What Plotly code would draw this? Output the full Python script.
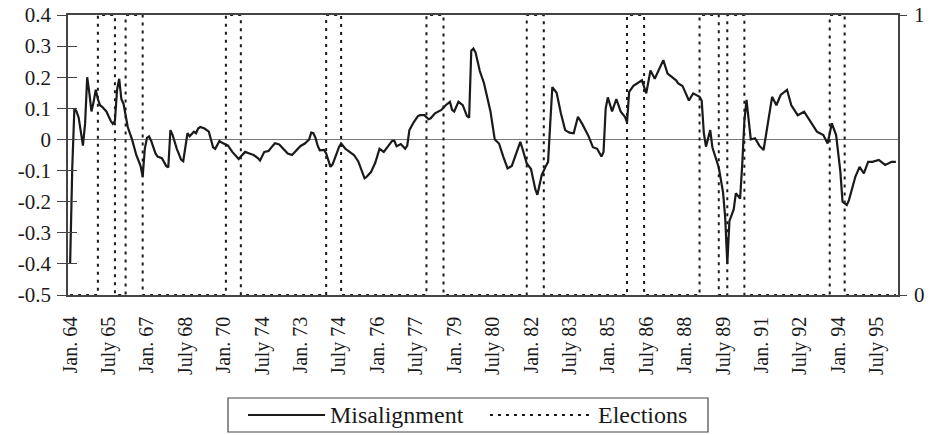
import plotly.graph_objects as go

# ---- data (month index from Jan. 1964, value) ----
mis_month = [0, 1, 2, 3, 4, 5, 6, 7, 8, 9, 10, 11, 12, 13, 14, 15, 17, 19, 20, 21, 22, 23, 24, 25, 26, 27, 29, 31, 33, 34,
             35, 36, 37, 38, 40, 41, 43, 45, 46, 47, 48, 50, 52, 53, 55, 56, 58, 59, 60, 61, 63, 65, 66, 67, 68, 70, 71, 73, 74, 76,
             78, 79, 80, 82, 84, 86, 88, 89, 91, 93, 95, 96, 98, 100, 102, 104, 106, 108, 110, 112, 113, 114, 115, 116, 117, 119, 120, 122, 123, 124,
             126, 127, 129, 131, 133, 135, 137, 138, 139, 141, 143, 145, 147, 149, 151, 152, 153, 155, 157, 158, 159, 161, 163, 164, 166, 168, 169, 171, 173, 174,
             176, 178, 179, 180, 182, 184, 186, 187, 188, 189, 190, 192, 194, 196, 197, 199, 201, 203, 205, 207, 209, 211, 212, 214, 216, 218, 219, 220, 221, 223,
             224, 225, 226, 228, 230, 232, 234, 236, 238, 240, 241, 243, 245, 247, 249, 250, 251, 252, 254, 256, 258, 260, 261, 262, 264, 266, 268, 270, 272, 274,
             276, 278, 280, 282, 284, 285, 287, 290, 292, 295, 296, 297, 298, 300, 301, 304, 306, 307, 308, 309, 311, 312, 314, 315, 316, 317, 319, 321, 323, 325,
             327, 329, 331, 333, 336, 338, 341, 344, 347, 350, 353, 355, 357, 359, 361, 362, 364, 365, 368, 370, 372, 374, 376, 379, 382, 385, 387]
mis_value = [-0.40, -0.09, 0.10, 0.09, 0.07, 0.02, -0.02, 0.05, 0.20, 0.15, 0.09, 0.12, 0.16, 0.13, 0.11, 0.105, 0.09, 0.06, 0.05, 0.06, 0.16, 0.195, 0.13, 0.115, 0.08, 0.04, 0.00, -0.05, -0.085, -0.12,
             -0.03, 0.005, 0.01, -0.005, -0.045, -0.055, -0.06, -0.085, -0.09, 0.03, 0.015, -0.03, -0.065, -0.07, 0.02, 0.01, 0.025, 0.02, 0.035, 0.04, 0.035, 0.025, 0.00, -0.025, -0.03, -0.005, -0.01, -0.015, -0.02, -0.04,
             -0.055, -0.063, -0.055, -0.04, -0.045, -0.05, -0.06, -0.068, -0.04, -0.037, -0.02, -0.012, -0.016, -0.03, -0.045, -0.05, -0.035, -0.021, -0.013, 0.00, 0.022, 0.02, 0.005, -0.02, -0.035, -0.034, -0.045, -0.088, -0.08, -0.06,
             -0.025, -0.013, -0.03, -0.04, -0.05, -0.07, -0.11, -0.125, -0.12, -0.105, -0.075, -0.03, -0.04, -0.02, -0.004, -0.005, -0.022, -0.015, -0.03, -0.02, 0.03, 0.055, 0.075, 0.078, 0.078, 0.065, 0.068, 0.084, 0.09, 0.095,
             0.11, 0.121, 0.095, 0.09, 0.121, 0.11, 0.075, 0.07, 0.285, 0.292, 0.28, 0.22, 0.18, 0.12, 0.09, 0.00, -0.013, -0.055, -0.093, -0.085, -0.045, -0.008, -0.03, -0.077, -0.095, -0.16, -0.178, -0.15, -0.115, -0.085,
             -0.072, 0.05, 0.168, 0.15, 0.084, 0.03, 0.022, 0.02, 0.073, 0.05, 0.036, 0.01, -0.025, -0.03, -0.055, -0.04, 0.10, 0.135, 0.09, 0.13, 0.09, 0.073, 0.055, 0.153, 0.172, 0.18, 0.19, 0.148, 0.222, 0.195,
             0.228, 0.255, 0.212, 0.20, 0.19, 0.18, 0.172, 0.125, 0.148, 0.137, 0.125, 0.02, -0.023, 0.03, -0.025, -0.09, -0.17, -0.25, -0.40, -0.262, -0.225, -0.173, -0.19, -0.08, 0.06, 0.127, 0.00, 0.004, -0.02, -0.034,
             0.055, 0.137, 0.11, 0.143, 0.159, 0.11, 0.078, 0.089, 0.057, 0.025, 0.014, -0.013, 0.052, 0.014, -0.104, -0.20, -0.211, -0.195, -0.12, -0.088, -0.109, -0.072, -0.072, -0.066, -0.082, -0.072, -0.072]

# election windows (start month, end month), month index from Jan. 1964
election_start = [13, 26, 73, 120, 167, 214, 261, 295, 308, 356]
election_end = [21, 34, 80, 127, 175, 222, 269, 304, 316, 363]
n_months = 388

x_tick_months = [0, 18, 36, 54, 72, 90, 108, 126, 144, 162, 180, 198, 216, 234, 252, 270, 288, 306, 324, 342, 360, 378]
x_tick_labels = ["Jan. 64", "July 65", "Jan. 67", "July 68", "Jan. 70", "July 74", "Jan. 73", "July 74", "Jan. 76",
                 "July 77", "Jan. 79", "July 80", "Jan. 82", "July 83", "Jan. 85", "July 86", "Jan. 88", "July 89",
                 "Jan. 91", "July 92", "Jan. 94", "July 95"]
y_tick_vals = [0.4, 0.3, 0.2, 0.1, 0, -0.1, -0.2, -0.3, -0.4, -0.5]
y_tick_text = ["0.4", "0.3", "0.2", "0.1", "0", "-0.1", "-0.2", "-0.3", "-0.4", "-0.5"]
y2_tick_vals = [0, 1]
y2_tick_text = ["0", "1"]
legend_names = ["Misalignment", "Elections"]

# monthly election indicator built from the windows
elec_x = list(range(n_months))
elec_y = [1 if any(s <= m < e for s, e in zip(election_start, election_end)) else 0 for m in elec_x]

FONT = "Liberation Serif"
INK = "#1a1a1a"
DOT = "3px,5px"

W, H = 931, 435
ML, MR, MT, MB = 68, 33, 15, 140
PW, PH = W - ML - MR, H - MT - MB


def px_x(px):  # figure pixel -> paper coordinate
    return (px - ML) / PW


def px_y(py):
    return (H - MB - py) / PH


fig = go.Figure()
fig.add_trace(go.Scatter(x=elec_x, y=elec_y, yaxis="y2", mode="lines", line_shape="hv",
                         line=dict(color=INK, width=2, dash=DOT), name=legend_names[1], hoverinfo="skip"))
fig.add_trace(go.Scatter(x=mis_month, y=mis_value, mode="lines",
                         line=dict(color=INK, width=2.2), name=legend_names[0]))
# invisible helper trace to activate the inside-tick overlay axis
fig.add_trace(go.Scatter(x=[None], y=[None], yaxis="y3", showlegend=False, hoverinfo="skip"))

fig.update_layout(
    width=W, height=H,
    margin=dict(l=ML, r=MR, t=MT, b=MB, autoexpand=False),
    paper_bgcolor="white", plot_bgcolor="white",
    font=dict(family=FONT, size=20, color=INK),
    showlegend=False,
    xaxis=dict(range=[-1, 388], tickvals=x_tick_months, ticktext=x_tick_labels, tickangle=-90,
               showgrid=False, zeroline=False, showline=True, mirror=True, linecolor="#444", linewidth=1.5,
               ticks="", ticklabelstandoff=12, automargin=False, ticklabeloverflow="allow",
               tickfont=dict(family=FONT, size=20, color=INK)),
    yaxis=dict(range=[-0.5, 0.4], tickvals=y_tick_vals, ticktext=y_tick_text, showgrid=False,
               zeroline=True, zerolinecolor="#777", zerolinewidth=1, automargin=False,
               showline=True, linecolor="#444", linewidth=1.5, ticks="outside", ticklen=9,
               tickcolor="#444", tickwidth=1, ticklabelstandoff=2, ticklabeloverflow="allow",
               tickfont=dict(family=FONT, size=21, color=INK)),
    yaxis2=dict(range=[0, 1], tickvals=y2_tick_vals, ticktext=y2_tick_text, overlaying="y", side="right",
                showgrid=False, zeroline=False, showline=True, linecolor="#444", linewidth=1.5,
                ticks="outside", ticklen=7, tickcolor="#444", ticklabelstandoff=3, automargin=False,
                ticklabeloverflow="allow", tickfont=dict(family=FONT, size=21, color=INK)),
    yaxis3=dict(range=[-0.5, 0.4], tickvals=y_tick_vals, overlaying="y", side="left", showgrid=False,
                zeroline=False, showline=False, ticks="inside", ticklen=9, tickcolor="#444", tickwidth=1,
                showticklabels=False, automargin=False),
)

# hand-drawn legend box (matches the long sample lines of the original)
ly = px_y(415)
fig.add_shape(type="rect", xref="paper", yref="paper", x0=px_x(228), x1=px_x(708), y0=px_y(432), y1=px_y(398),
              line=dict(color="#444", width=1.2), fillcolor="white", layer="above")
fig.add_shape(type="line", xref="paper", yref="paper", x0=px_x(248), x1=px_x(325), y0=ly, y1=ly,
              line=dict(color=INK, width=2))
fig.add_shape(type="line", xref="paper", yref="paper", x0=px_x(490), x1=px_x(593), y0=ly, y1=ly,
              line=dict(color=INK, width=2, dash=DOT))
fig.add_annotation(xref="paper", yref="paper", x=px_x(328), y=ly, xanchor="left", yanchor="middle",
                   text=legend_names[0], showarrow=False, font=dict(family=FONT, size=24, color=INK))
fig.add_annotation(xref="paper", yref="paper", x=px_x(596), y=ly, xanchor="left", yanchor="middle",
                   text=legend_names[1], showarrow=False, font=dict(family=FONT, size=24, color=INK))

# remove the browser's default 8px page margin so the figure fills the window exactly
fig.write_html("out.html", config={"displayModeBar": False},
               post_script="document.body.style.margin='0';document.body.style.overflow='hidden';")
